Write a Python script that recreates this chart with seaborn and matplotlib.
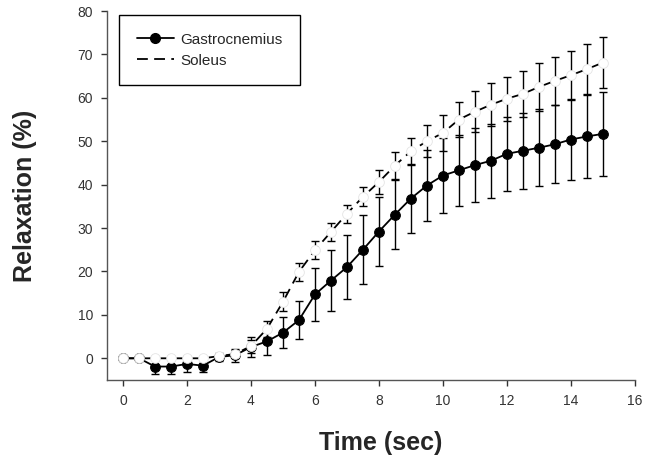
import matplotlib
matplotlib.use("Agg")

import matplotlib.pyplot as plt  # noqa: E402
from matplotlib.lines import Line2D  # noqa: E402
import pandas as pd  # noqa: E402
import seaborn as sns  # noqa: E402

sns.set_style("ticks")
plt.rcParams["font.family"] = ["Liberation Sans", "DejaVu Sans"]

# --------------------------------------------------------------------------- #
# Data
# --------------------------------------------------------------------------- #
time = [0, 0.5, 1, 1.5, 2, 2.5, 3, 3.5, 4, 4.5, 5, 5.5, 6, 6.5, 7, 7.5,
        8, 8.5, 9, 9.5, 10, 10.5, 11, 11.5, 12, 12.5, 13, 13.5, 14, 14.5, 15]

gastro_mean = [0, 0, -1.9, -1.9, -1.3, -1.7, 0.3, 0.7, 2.6, 3.9, 5.9, 8.8,
               14.7, 17.9, 21.0, 25.0, 29.2, 33.1, 36.8, 39.8, 42.1, 43.3,
               44.5, 45.5, 47.1, 47.8, 48.5, 49.3, 50.4, 51.1, 51.7]
gastro_sd = [0, 0, 1.7, 1.7, 1.8, 1.5, 1.0, 1.5, 2.4, 3.1, 3.5, 4.4,
             6.0, 7.0, 7.4, 7.9, 8.0, 8.0, 7.9, 8.2, 8.6, 8.2,
             8.5, 8.5, 8.6, 8.8, 8.9, 9.0, 9.4, 9.5, 9.6]

soleus_mean = [0, 0, 0, 0, 0, 0, 0.5, 1.0, 2.8, 6.8, 13.0, 19.9,
               24.9, 29.1, 33.3, 37.2, 40.6, 44.4, 47.7, 50.0, 51.9, 55.0,
               56.8, 58.4, 59.8, 60.9, 62.5, 63.9, 65.2, 66.6, 68.1]
soleus_sd = [0, 0, 0, 0, 0, 0, 0.5, 1.0, 1.5, 1.8, 2.2, 2.0,
             2.1, 2.1, 2.1, 2.2, 2.7, 3.1, 3.1, 3.7, 4.1, 4.1,
             4.7, 5.0, 5.1, 5.3, 5.5, 5.6, 5.7, 5.8, 5.9]

df = pd.DataFrame({
    "time": time,
    "gastro": gastro_mean, "gastro_sd": gastro_sd,
    "soleus": soleus_mean, "soleus_sd": soleus_sd,
})

DASH = (0, (6, 3.5))

# --------------------------------------------------------------------------- #
# Figure
# --------------------------------------------------------------------------- #
fig = plt.figure(figsize=(6.55, 4.61), dpi=100)
ax = fig.add_axes([0.1634, 0.1757, 0.8057, 0.8004])

# Gastrocnemius: error bars, then line + filled markers
ax.errorbar(df.time, df.gastro, yerr=df.gastro_sd, fmt="none",
            ecolor="black", elinewidth=1, capsize=3.2, capthick=1, zorder=2)
sns.lineplot(data=df, x="time", y="gastro", ax=ax, errorbar=None,
             color="black", lw=1.3, marker="o", markersize=7,
             markerfacecolor="black", markeredgecolor="black", zorder=3)

# Soleus: error bars, then dashed line + open (white) markers
ax.errorbar(df.time, df.soleus, yerr=df.soleus_sd, fmt="none",
            ecolor="black", elinewidth=1, capsize=3.2, capthick=1, zorder=4)
sns.lineplot(data=df, x="time", y="soleus", ax=ax, errorbar=None,
             color="black", lw=1.3, linestyle=DASH, marker="o",
             markersize=7, markerfacecolor="white",
             markeredgecolor="#e4e4e4", markeredgewidth=0.6, zorder=5)

ax.set_xlim(-0.5, 16)
ax.set_ylim(-5, 80)
ax.set_xticks(range(0, 17, 2))
ax.set_yticks(range(0, 81, 10))
ax.tick_params(direction="out", length=4, width=1, colors="#333333",
               labelsize=10, pad=6)
for side in ["top", "right"]:
    ax.spines[side].set_visible(False)
for side in ["left", "bottom"]:
    ax.spines[side].set_color("#555555")
    ax.spines[side].set_linewidth(1)

ax.set_xlabel("Time (sec)", fontsize=18, fontweight="bold")
ax.set_ylabel("Relaxation (%)", fontsize=18, fontweight="bold")
ax.xaxis.set_label_coords(0.519, -0.138)
ax.yaxis.set_label_coords(-0.132, 0.5)

handles = [
    Line2D([], [], color="black", lw=1.3, marker="o", markersize=7),
    Line2D([], [], color="black", lw=1.3, linestyle=DASH),
]
leg = ax.legend(handles, ["Gastrocnemius", "Soleus"], loc="upper left",
                bbox_to_anchor=(0.0233, 0.989), borderaxespad=0,
                fontsize=11, frameon=True, fancybox=False, framealpha=1,
                edgecolor="black", handlelength=2.4, handletextpad=0.45,
                labelspacing=0.45, borderpad=1.15)
leg.get_frame().set_linewidth(1)

fig.savefig("out.png", dpi=100)
plt.close(fig)
